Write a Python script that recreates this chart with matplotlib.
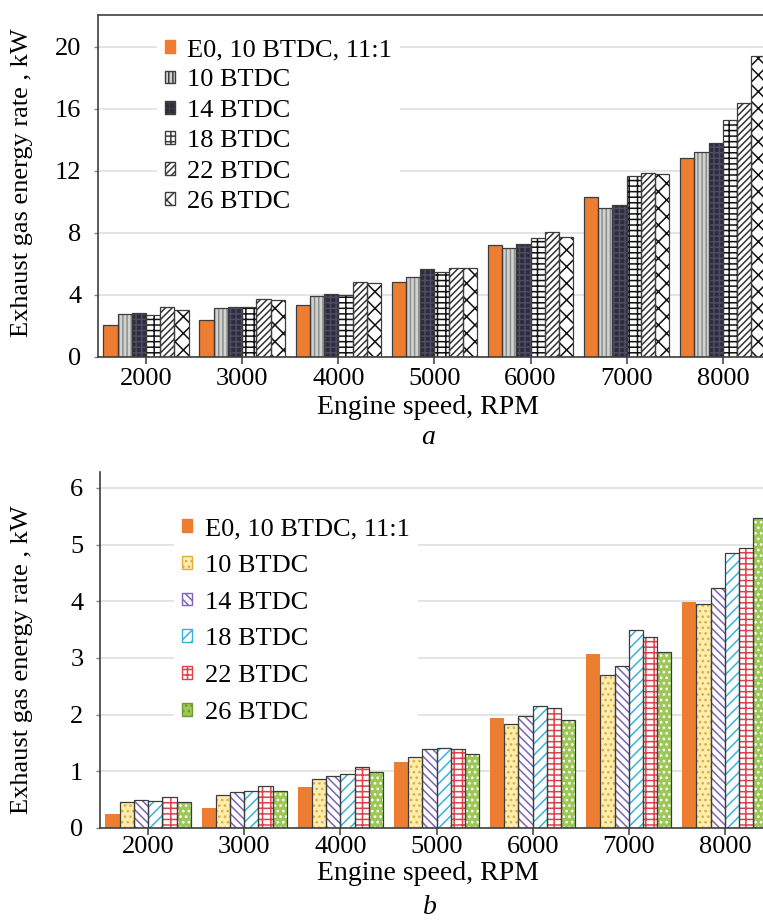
import numpy as np
import matplotlib
matplotlib.use('Agg')
import matplotlib.pyplot as plt
from matplotlib.patches import Patch

plt.rcParams['font.family'] = ['Liberation Serif', 'DejaVu Serif']
plt.rcParams['hatch.linewidth'] = 1.1

# engine speed categories
speeds = ['2000', '3000', '4000', '5000', '6000', '7000', '8000']
series = ['E0, 10 BTDC, 11:1', '10 BTDC', '14 BTDC', '18 BTDC', '22 BTDC', '26 BTDC']

# panel a values (kW)
a_e0 = [2.05, 2.4, 3.35, 4.85, 7.2, 10.3, 12.85]
a_10 = [2.8, 3.15, 3.95, 5.15, 7.0, 9.6, 13.25]
a_14 = [2.85, 3.2, 4.05, 5.65, 7.3, 9.8, 13.8]
a_18 = [2.7, 3.2, 4.0, 5.5, 7.65, 11.7, 15.3]
a_22 = [3.2, 3.75, 4.85, 5.75, 8.05, 11.85, 16.4]
a_26 = [3.05, 3.7, 4.8, 5.75, 7.75, 11.8, 19.4]

# panel b values (kW)
b_e0 = [0.24, 0.36, 0.72, 1.17, 1.94, 3.06, 3.99]
b_10 = [0.46, 0.59, 0.87, 1.25, 1.83, 2.70, 3.95]
b_14 = [0.49, 0.63, 0.92, 1.40, 1.98, 2.85, 4.23]
b_18 = [0.48, 0.65, 0.95, 1.41, 2.15, 3.50, 4.85]
b_22 = [0.54, 0.74, 1.08, 1.40, 2.12, 3.36, 4.94]
b_26 = [0.46, 0.66, 0.98, 1.30, 1.90, 3.11, 5.47]

# (face, hatch colour, hatch) per series
styles_a = [('#ED7D31', '#ED7D31', None),
            ('#d2d2d2', '#8e8e8e', '||||'),
            ('#2c2c3c', '#4c4c64', '+++'),
            ('white', '#111111', '---||'),
            ('white', '#333333', '/////'),
            ('white', '#111111', 'xx')]
styles_b = [('#ED7D31', '#ED7D31', None),
            ('#fdeeb0', '#e2ad3c', '...'),
            ('white', '#7a65b8', '\\\\\\\\'),
            ('white', '#35b4da', '///'),
            ('white', '#e0404c', '---||'),
            ('#9dc857', 'white', '...')]

x = np.arange(len(speeds))
w = 0.148
edge = '#3c3c3c'


def draw_panel(ax, data, styles, ylim, yticks, outline_first):
    for i, (vals, (face, hc, h)) in enumerate(zip(data, styles)):
        pos = x + (i - 2.5) * w
        ax.bar(pos, vals, w, color=face, edgecolor=hc, hatch=h, lw=0, zorder=2)
        if i > 0 or outline_first:
            ax.bar(pos, vals, w, fill=False, edgecolor=edge, lw=0.9, zorder=3)
    ax.set_xlim(-0.5, len(speeds) - 0.5)
    ax.set_ylim(*ylim)
    ax.set_yticks(yticks)
    ax.set_xticks(x)
    ax.set_xticklabels(speeds)
    ax.yaxis.grid(True, color='#e2e2e2', lw=1.3, zorder=0)
    ax.set_axisbelow(True)
    ax.tick_params(axis='x', length=5, width=1.1, pad=3, labelsize=19, color=edge)
    ax.tick_params(axis='y', length=3, width=1, pad=9, labelsize=19, color='#888888')
    ax.spines['right'].set_visible(False)
    for s in ['left', 'bottom', 'top']:
        ax.spines[s].set_color('#404040')
        ax.spines[s].set_linewidth(1.2)


def legend_handles(styles, colored):
    hs = []
    for face, hc, h in styles:
        if h is None:
            ec = face
        elif colored and hc != 'white':
            ec = hc
        elif colored:
            ec = '#6f9a35'
        else:
            ec = edge
        hs.append(Patch(facecolor=face, edgecolor=ec, hatch=h, lw=1.0))
    return hs


fig = plt.figure(figsize=(7.63, 9.22), dpi=100)

ax1 = fig.add_axes([0.1284, 0.6128, 0.8820, 0.3709])
draw_panel(ax1, [a_e0, a_10, a_14, a_18, a_22, a_26], styles_a, (0, 22.06),
           [0, 4, 8, 12, 16, 20], True)
ax1.legend(legend_handles(styles_a, False), series, loc='upper left',
           bbox_to_anchor=(0.088, 0.953),
           fontsize=19, frameon=True, facecolor='white', edgecolor='none', framealpha=1,
           handlelength=0.37, handleheight=0.37, handletextpad=0.45, labelspacing=0.32,
           borderpad=0.3, borderaxespad=0)

ax2 = fig.add_axes([0.1311, 0.1020, 0.8820, 0.3861])
draw_panel(ax2, [b_e0, b_10, b_14, b_18, b_22, b_26], styles_b, (0, 6.28),
           [0, 1, 2, 3, 4, 5, 6], False)
ax2.spines['top'].set_visible(False)
ax2.tick_params(axis='x', pad=1)
ax2.legend(legend_handles(styles_b, True), series, loc='upper left',
           bbox_to_anchor=(0.11, 0.893),
           fontsize=19, frameon=True, facecolor='white', edgecolor='none', framealpha=1,
           handlelength=0.37, handleheight=0.37, handletextpad=0.5, labelspacing=0.56,
           borderpad=0.3, borderaxespad=0)

# axis labels and panel captions
fig.text(0.561, 0.5575, 'Engine speed, RPM', ha='center', va='center', fontsize=20)
fig.text(0.561, 0.526, 'a', ha='center', va='center', fontsize=20, style='italic')
fig.text(0.561, 0.0525, 'Engine speed, RPM', ha='center', va='center', fontsize=20)
fig.text(0.563, 0.0152, 'b', ha='center', va='center', fontsize=20, style='italic')
fig.text(0.029, 0.8015, 'Exhaust gas energy rate , kW', ha='center', va='center',
         rotation=90, fontsize=19)
fig.text(0.029, 0.284, 'Exhaust gas energy rate , kW', ha='center', va='center',
         rotation=90, fontsize=19)

fig.savefig('out.png', dpi=100)
